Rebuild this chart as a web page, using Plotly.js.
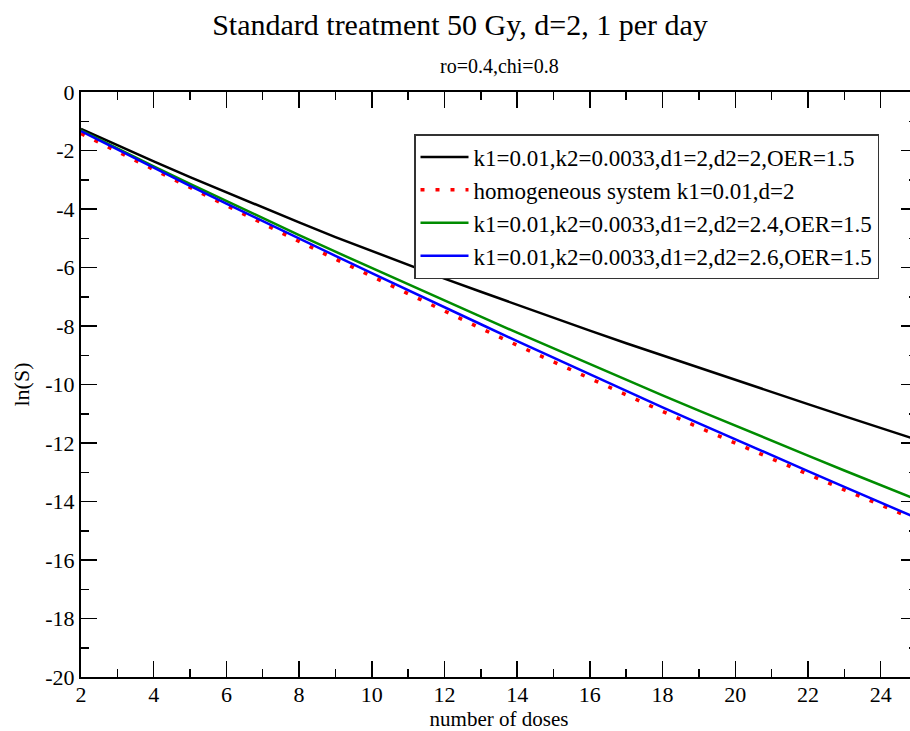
<!DOCTYPE html>
<html>
<head>
<meta charset="utf-8">
<script src="https://cdn.plot.ly/plotly-3.0.1.min.js"></script>
<style>
html,body{margin:0;padding:0;overflow:hidden;background:#fff;}
#chart{width:920px;height:731px;}
</style>
</head>
<body>
<div id="chart"></div>
<script>
// number of doses
const doses = [2,3,4,5,6,7,8,9,10,11,12,13,14,15,16,17,18,19,20,21,22,23,24,25];

// ln(S) series
const blackD2_20 = [-1.26,-1.82,-2.37,-2.91,-3.43,-3.95,-4.46,-4.96,-5.44,-5.92,-6.38,-6.83,-7.28,-7.72,-8.16,-8.59,-9.01,-9.43,-9.85,-10.26,-10.67,-11.08,-11.48,-11.89];
const homogeneous = [-1.42,-2.04,-2.66,-3.27,-3.89,-4.50,-5.11,-5.71,-6.31,-6.90,-7.49,-8.08,-8.66,-9.23,-9.80,-10.36,-10.92,-11.47,-12.01,-12.54,-13.07,-13.60,-14.12,-14.64];
const greenD2_24 = [-1.31,-1.93,-2.54,-3.14,-3.73,-4.32,-4.89,-5.46,-6.02,-6.58,-7.13,-7.68,-8.23,-8.77,-9.31,-9.84,-10.37,-10.89,-11.41,-11.92,-12.43,-12.94,-13.44,-13.94];
const blueD2_26 = [-1.34,-1.97,-2.59,-3.21,-3.82,-4.42,-5.01,-5.60,-6.19,-6.78,-7.36,-7.94,-8.52,-9.09,-9.66,-10.22,-10.78,-11.33,-11.88,-12.42,-12.96,-13.50,-14.03,-14.57];

const seriesNames = [
  "k1=0.01,k2=0.0033,d1=2,d2=2,OER=1.5",
  "homogeneous system k1=0.01,d=2",
  "k1=0.01,k2=0.0033,d1=2,d2=2.4,OER=1.5",
  "k1=0.01,k2=0.0033,d1=2,d2=2.6,OER=1.5"
];

const xTicks = [2,4,6,8,10,12,14,16,18,20,22,24];
const yTicks = [0,-2,-4,-6,-8,-10,-12,-14,-16,-18,-20];

const FONT = "Liberation Serif";

const traces = [
  {x: doses, y: blackD2_20, name: seriesNames[0], mode: "lines", line: {color: "#000000", width: 2.5}},
  {x: doses, y: homogeneous, name: seriesNames[1], mode: "lines", line: {color: "#ff0000", width: 3.5, dash: "4px,11px"}},
  {x: doses, y: greenD2_24, name: seriesNames[2], mode: "lines", line: {color: "#008c00", width: 2.5}},
  {x: doses, y: blueD2_26, name: seriesNames[3], mode: "lines", line: {color: "#0000ff", width: 2.5}}
];

const axisCommon = {
  showgrid: false,
  zeroline: false,
  showline: true,
  linecolor: "#000",
  linewidth: 2,
  mirror: "allticks",
  ticks: "inside",
  ticklen: 16,
  tickwidth: 1.5,
  tickcolor: "#000",
  tickfont: {family: FONT, size: 22, color: "#000"},
  minor: {ticks: "inside", ticklen: 8, tickwidth: 1.5, tickcolor: "#000", dtick: 1}
};

const layout = {
  width: 920,
  height: 731,
  margin: {l: 81, r: 3, t: 92, b: 54},
  paper_bgcolor: "#fff",
  plot_bgcolor: "#fff",
  showlegend: true,
  font: {family: FONT, color: "#000"},
  title: {
    text: "Standard treatment 50 Gy, d=2, 1 per day",
    font: {family: FONT, size: 30, color: "#000"},
    x: 0.5, xref: "container", xanchor: "center",
    y: 0.967, yref: "container", yanchor: "middle"
  },
  annotations: [{
    text: "ro=0.4,chi=0.8",
    xref: "paper", yref: "paper", x: 0.5, y: 1,
    xanchor: "center", yanchor: "middle", yshift: 26,
    showarrow: false,
    font: {family: FONT, size: 20, color: "#000"}
  }],
  xaxis: Object.assign({}, axisCommon, {
    range: [2, 25],
    tickvals: xTicks,
    ticktext: xTicks.map(String),
    ticklabelstandoff: -3,
    title: {text: "number of doses", font: {family: FONT, size: 21, color: "#000"}, standoff: 7}
  }),
  yaxis: Object.assign({}, axisCommon, {
    range: [-20, 0],
    tickvals: yTicks,
    ticktext: yTicks.map(String),
    title: {text: "ln(S)", font: {family: FONT, size: 22, color: "#000"}, standoff: 10}
  }),
  legend: {
    x: (414 - 81) / 836, xanchor: "left",
    y: 1 - (134 - 92) / 585, yanchor: "top",
    bgcolor: "#fff",
    bordercolor: "#333",
    borderwidth: 1.5,
    itemwidth: 48,
    entrywidth: 415,
    entrywidthmode: "pixels",
    font: {family: FONT, size: 23, color: "#000"},
    tracegroupgap: 0
  }
};

Plotly.newPlot("chart", traces, layout, {displayModeBar: false, staticPlot: true});
</script>
</body>
</html>
